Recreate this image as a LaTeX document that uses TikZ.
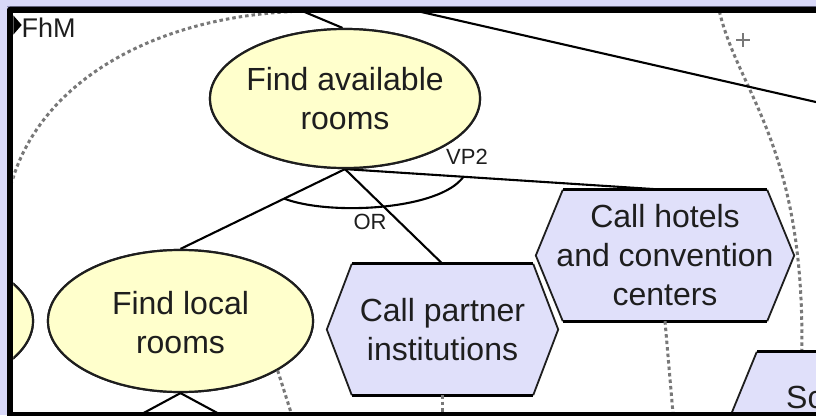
\documentclass[tikz,border=0pt]{standalone}
\usepackage{fontspec}
\setmainfont{Liberation Sans}
\usetikzlibrary{shapes.geometric,calc}

\definecolor{pagebg}{RGB}{216,216,248}
\definecolor{pageedge}{RGB}{150,150,190}
\definecolor{goalfill}{RGB}{255,255,204}
\definecolor{taskfill}{RGB}{224,224,250}
\definecolor{inkline}{RGB}{30,30,30}
\definecolor{boundgray}{RGB}{120,120,120}

\newcommand\bodyfont{\fontsize{32}{39}\selectfont}
\newcommand\tagfont{\fontsize{22}{26}\selectfont}
\newcommand\markfont{\fontsize{27}{30}\selectfont}

\tikzset{
  goal/.style={ellipse, draw=inkline, line width=2.2pt, fill=goalfill, inner sep=0pt},
  taskframe/.style={rectangle, inner sep=0pt},
  nodetext/.style={align=center, font=\bodyfont, text=inkline, inner sep=0pt},
  link/.style={draw=black, line width=2.1pt},
  boundary/.style={draw=boundgray, line width=3pt, dash pattern=on 3.5pt off 3pt},
  tag/.style={font=\tagfont, text=inkline, inner sep=0pt},
}

% hexagonal task outline built on the anchors of a rectangle node
\newcommand\hexagonbody[2]{%
  \fill[taskfill] ([xshift=#2pt]#1.north west) -- ([xshift=-#2pt]#1.north east) -- (#1.east)
    -- ([xshift=-#2pt]#1.south east) -- ([xshift=#2pt]#1.south west) -- (#1.west) -- cycle;
  \draw[inkline, line width=1.8pt] ([xshift=-#2pt]#1.north east) -- (#1.east) -- ([xshift=-#2pt]#1.south east);
  \draw[inkline, line width=1.8pt] ([xshift=#2pt]#1.north west) -- (#1.west) -- ([xshift=#2pt]#1.south west);
  \draw[black, line width=2.8pt] ([xshift=#2pt]#1.north west) -- ([xshift=-#2pt]#1.north east);
  \draw[black, line width=2.8pt] ([xshift=#2pt]#1.south west) -- ([xshift=-#2pt]#1.south east);
}

\begin{document}
\begin{tikzpicture}[x=1pt,y=-1pt]
\useasboundingbox (0,0) rectangle (816,415);
\fill[pagebg] (0,0) rectangle (816,415);
\draw[pageedge, line width=1pt] (7,6.3) -- (830,6.3);
\fill[black, rounded corners=3pt] (7,6.7) rectangle (840,430);
\fill[white] (13.3,13.3) rectangle (840,411.5);

\begin{scope}
\clip (13.3,13.3) rectangle (816,411.5);

% actor boundaries
\draw[boundary] (11,185) .. controls (38,85) and (150,15) .. (305,11);
\coordinate (rb) at (718,5);
\coordinate (ta) at (270,-2.5);
\coordinate (la) at (395,6);
\coordinate (lb) at (840,107.5);

% nodes (shapes only)
\node[goal, minimum width=270pt, minimum height=139pt] (fa) at (345,98.5) {};
\node[goal, minimum width=265pt, minimum height=142pt] (fl) at (180.5,321) {};
\node[goal, minimum width=266pt, minimum height=142pt] (fx) at (-100,321) {};
\node[taskframe, minimum width=231pt, minimum height=131pt] (cp) at (442.5,329.5) {};
\node[taskframe, minimum width=258pt, minimum height=131pt] (ch) at (665,255.5) {};
\node[taskframe, minimum width=258pt, minimum height=131pt] (sc) at (859,417.5) {};

\draw[boundary] (rb) .. controls (735,90) and (805,140) .. ([xshift=72pt]sc.north west);

% links
\draw[link] (ta) -- (fa.92);
\draw[link] (la) -- (lb);
\draw[link] (fa.south) -- (fl.north);
\draw[link] (fa.south) -- (cp.north);
\draw[link] (fa.south) -- (ch.north);
\draw[link] ($(fa.south)!0.37!(fl.north)$) .. controls (330,216) and (440,210) .. ($(fa.south)!0.37!(ch.north)$);

% ellipses redrawn above the link ends
\node[goal, minimum width=270pt, minimum height=139pt] (fa2) at (fa) {};
\node[goal, minimum width=265pt, minimum height=142pt] (fl2) at (fl) {};
\node[goal, minimum width=266pt, minimum height=142pt] (fx2) at (fx) {};

\hexagonbody{cp}{25}
\hexagonbody{ch}{27}
\hexagonbody{sc}{27}

% node texts
\node[nodetext] (fat) at (fa) {Find available\\rooms};
\node[nodetext] (flt) at ([yshift=-2pt]fl.center) {Find local\\rooms};
\node[nodetext] (cpt) at (cp) {Call partner\\institutions};
\node[nodetext] (cht) at (ch) {Call hotels\\and convention\\centers};
\node[nodetext, anchor=base west] (sct) at (786,408) {Sc};

% links leaving the view
\coordinate (fl1) at (119.5,426);
\coordinate (fl2e) at (241.5,426);
\coordinate (d1) at (295,425);
\coordinate (d2) at (442.5,425);
\coordinate (d3) at (674,425);
\draw[link] (fl.south) -- (fl1);
\draw[link] (fl.south) -- (fl2e);
\draw[boundary] (fl.-27) -- (d1);
\draw[boundary] (cp.south) -- (d2);
\draw[boundary] (ch.south) -- (d3);

% tags
\node[tag] (ortag) at (370,222) {OR};
\node[tag] (vptag) at (467,157) {VP2};
\draw[boundgray, line width=1.5pt] (736,40) -- (750,40) (743,33) -- (743,47);

% actor marker
\fill[black] (13,15) -- (21.7,25) -- (13,35) -- cycle;
\node[font=\markfont, text=inkline, anchor=base west, inner sep=0pt] (fhm) at (21.5,37) {FhM};
\end{scope}
\end{tikzpicture}
\end{document}
